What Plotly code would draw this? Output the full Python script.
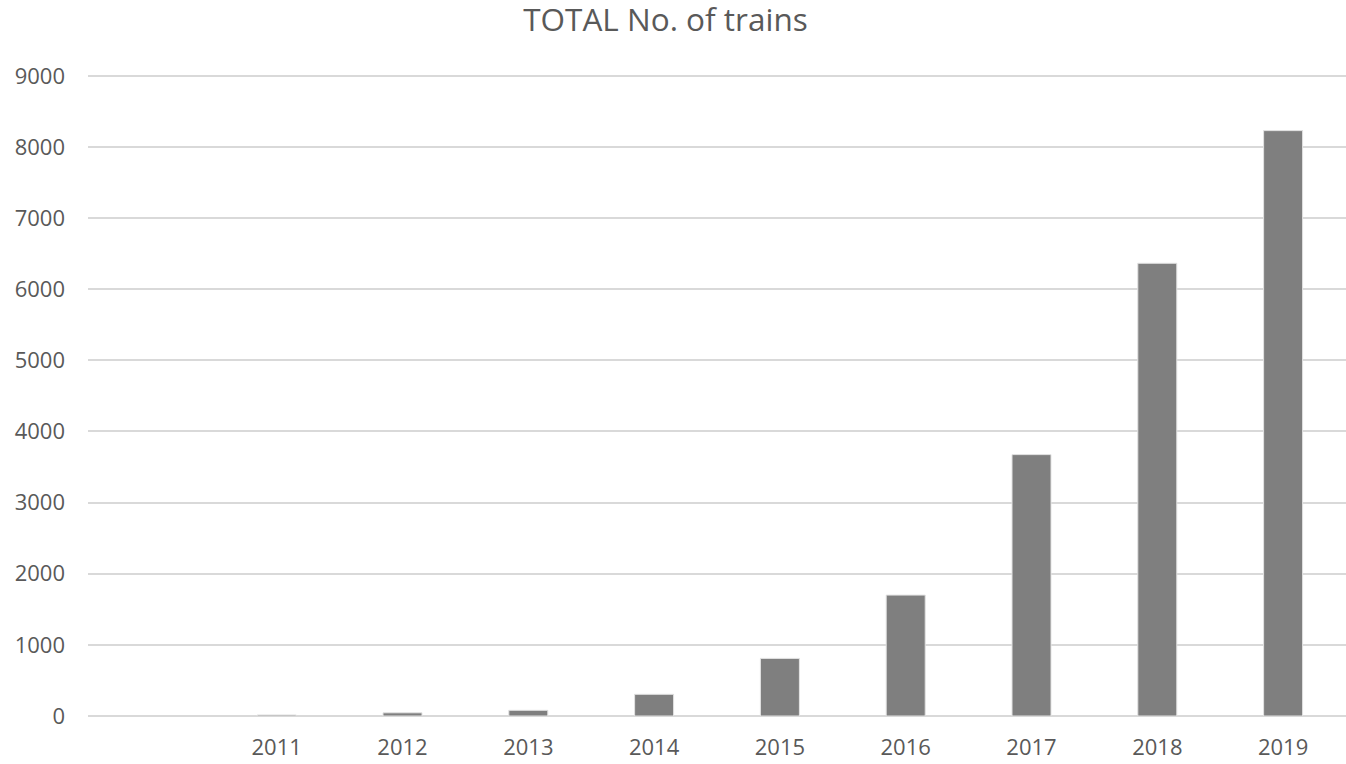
import plotly.graph_objects as go

categories = [" ", "2011", "2012", "2013", "2014", "2015", "2016", "2017", "2018", "2019"]
trains = [None, 15, 45, 80, 305, 810, 1700, 3675, 6365, 8230]
y_ticks = [0, 1000, 2000, 3000, 4000, 5000, 6000, 7000, 8000, 9000]

W, H = 1346, 764
font = "Open Sans"
text_col = "#595959"

y_top = 9040
plot_h = 640.3 * y_top / 9000
bottom = 48
top = H - bottom - plot_h

fig = go.Figure(go.Bar(
    x=categories, y=trains,
    marker=dict(color="#7f7f7f", line=dict(color="#e3e3e3", width=1)),
))

fig.update_layout(
    width=W, height=H,
    margin=dict(l=88, r=0, t=top, b=bottom, pad=0, autoexpand=False),
    paper_bgcolor="white", plot_bgcolor="white",
    bargap=0.69,
    showlegend=False,
    font=dict(family=font, color=text_col, size=22),
    title=dict(text="TOTAL No. of trains", x=665.5 / W, xanchor="center",
               y=1 - 20 / H, yanchor="middle", xref="container", yref="container",
               font=dict(family=font, size=31.5, color=text_col)),
)
fig.update_xaxes(type="category", showgrid=False, showline=False, zeroline=False,
                 automargin=False, ticks="", ticklabelstandoff=16,
                 tickfont=dict(size=22, color=text_col))
fig.update_yaxes(range=[0, y_top], tickvals=y_ticks, showgrid=True, gridcolor="#d9d9d9",
                 gridwidth=1.5, zeroline=True, zerolinecolor="#d9d9d9", zerolinewidth=1.5,
                 showline=False, ticks="", ticklabelstandoff=22, automargin=False,
                 tickfont=dict(size=22, color=text_col))

fig.write_html("out.html", config={"displayModeBar": False},
               post_script="document.body.style.margin='0';document.body.style.overflow='hidden';")
